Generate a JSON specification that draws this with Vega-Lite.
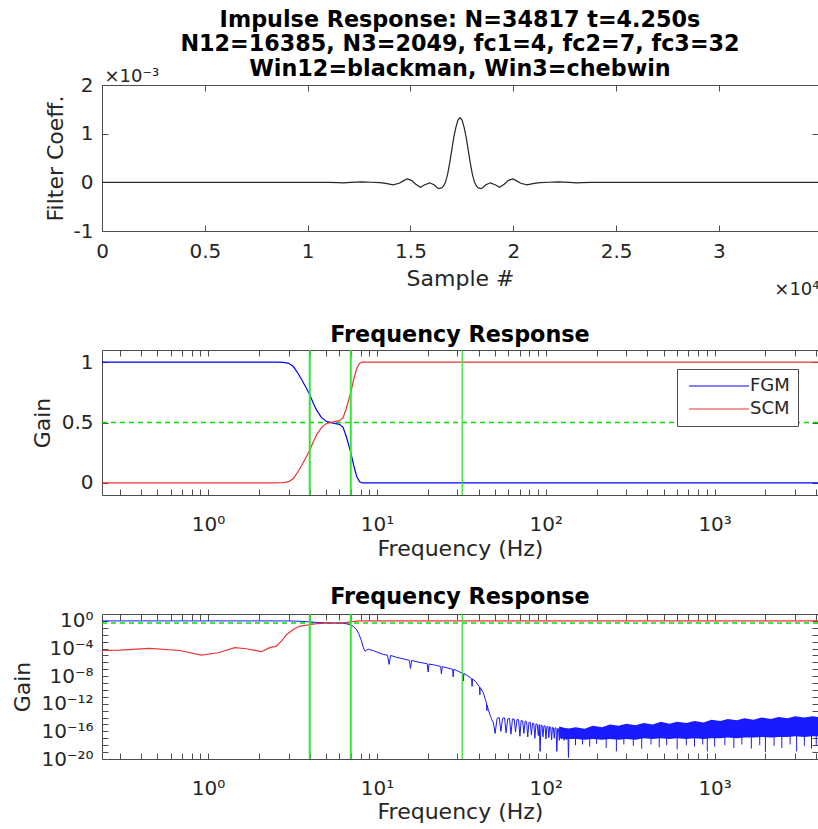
{
  "$schema": "https://vega.github.io/schema/vega-lite/v6.json",
  "padding": {"left": 10, "top": 8, "right": 0, "bottom": 4},
  "background": "white",
  "config": {
    "font": "DejaVu Sans",
    "view": {"stroke": "#4d4d4d", "strokeWidth": 1},
    "axis": {"grid": false, "domain": false, "tickSize": -6, "tickColor": "#4d4d4d", "tickWidth": 1, "labelFlush": false, "labelFont": "DejaVu Sans", "labelFontSize": 20, "labelColor": "#262626", "labelPadding": 15, "titleFont": "DejaVu Sans", "titleFontSize": 22, "titleFontWeight": "normal", "titleColor": "#262626"},
    "title": {"font": "DejaVu Sans", "fontSize": 22.3, "fontWeight": "bold", "color": "#000000", "anchor": "middle", "frame": "group"}
  },
  "datasets": {
    "impulse": [
      {"n": 0, "c": 0}, {"n": 11000, "c": 0}, {"n": 11500, "c": -5e-6}, {"n": 11750, "c": -1.2e-5}, {"n": 12100, "c": 0}, {"n": 12650, "c": 1e-5}, {"n": 13100, "c": 2e-6}, {"n": 13500, "c": -5e-6}, {"n": 13800, "c": -2e-5}, {"n": 14155, "c": -5e-5}, {"n": 14450, "c": -2e-5}, {"n": 14650, "c": 3e-5}, {"n": 14833, "c": 7e-5}, {"n": 15050, "c": 4e-5}, {"n": 15258, "c": -4e-5}, {"n": 15482, "c": -1e-4}, {"n": 15700, "c": -5e-5}, {"n": 15932, "c": -1e-5}, {"n": 16150, "c": -5e-5}, {"n": 16300, "c": -1.1e-4}, {"n": 16420, "c": -1.3e-4}, {"n": 16530, "c": -1.1e-4}, {"n": 16620, "c": -7e-5}, {"n": 16708, "c": 1e-5}, {"n": 16808, "c": 1.7e-4}, {"n": 16908, "c": 4.0e-4}, {"n": 17008, "c": 6.6e-4}, {"n": 17108, "c": 9.3e-4}, {"n": 17208, "c": 1.13e-3}, {"n": 17308, "c": 1.28e-3}, {"n": 17408, "c": 1.33e-3},
      {"n": 17508, "c": 1.28e-3}, {"n": 17608, "c": 1.13e-3}, {"n": 17708, "c": 9.3e-4}, {"n": 17808, "c": 6.6e-4}, {"n": 17908, "c": 4.0e-4}, {"n": 18008, "c": 1.7e-4}, {"n": 18108, "c": 1e-5}, {"n": 18196, "c": -7e-5}, {"n": 18286, "c": -1.1e-4}, {"n": 18396, "c": -1.3e-4}, {"n": 18516, "c": -1.1e-4}, {"n": 18666, "c": -5e-5}, {"n": 18884, "c": -1e-5}, {"n": 19116, "c": -5e-5}, {"n": 19334, "c": -1e-4}, {"n": 19558, "c": -4e-5}, {"n": 19766, "c": 4e-5}, {"n": 19983, "c": 7e-5}, {"n": 20166, "c": 3e-5}, {"n": 20366, "c": -2e-5}, {"n": 20661, "c": -5e-5}, {"n": 21016, "c": -2e-5}, {"n": 21316, "c": -5e-6}, {"n": 21716, "c": 2e-6}, {"n": 22166, "c": 1e-5}, {"n": 22716, "c": 0}, {"n": 23066, "c": -1.2e-5}, {"n": 23316, "c": -5e-6}, {"n": 23816, "c": 0}, {"n": 34816, "c": 0}
    ],
    "lin": [
      {"f": 0.2353, "g": 1, "s": "FGM"}, {"f": 1, "g": 1, "s": "FGM"}, {"f": 2.5, "g": 1, "s": "FGM"}, {"f": 2.8, "g": 0.998, "s": "FGM"}, {"f": 3.0, "g": 0.99, "s": "FGM"}, {"f": 3.2, "g": 0.963, "s": "FGM"}, {"f": 3.4, "g": 0.91, "s": "FGM"}, {"f": 3.6, "g": 0.85, "s": "FGM"}, {"f": 3.8, "g": 0.79, "s": "FGM"}, {"f": 4.0, "g": 0.73, "s": "FGM"}, {"f": 4.2, "g": 0.66, "s": "FGM"}, {"f": 4.4, "g": 0.6, "s": "FGM"}, {"f": 4.7, "g": 0.54, "s": "FGM"}, {"f": 5.0, "g": 0.51, "s": "FGM"}, {"f": 5.5, "g": 0.495, "s": "FGM"}, {"f": 6.0, "g": 0.485, "s": "FGM"}, {"f": 6.3, "g": 0.46, "s": "FGM"}, {"f": 6.6, "g": 0.38, "s": "FGM"}, {"f": 7.0, "g": 0.25, "s": "FGM"}, {"f": 7.3, "g": 0.14, "s": "FGM"}, {"f": 7.6, "g": 0.05, "s": "FGM"}, {"f": 7.9, "g": 0.01, "s": "FGM"}, {"f": 8.2, "g": 0, "s": "FGM"}, {"f": 4096, "g": 0, "s": "FGM"},
      {"f": 0.2353, "g": 0, "s": "SCM"}, {"f": 1, "g": 0, "s": "SCM"}, {"f": 2.5, "g": 0, "s": "SCM"}, {"f": 2.8, "g": 0.002, "s": "SCM"}, {"f": 3.0, "g": 0.01, "s": "SCM"}, {"f": 3.2, "g": 0.037, "s": "SCM"}, {"f": 3.4, "g": 0.09, "s": "SCM"}, {"f": 3.6, "g": 0.15, "s": "SCM"}, {"f": 3.8, "g": 0.21, "s": "SCM"}, {"f": 4.0, "g": 0.27, "s": "SCM"}, {"f": 4.2, "g": 0.34, "s": "SCM"}, {"f": 4.4, "g": 0.4, "s": "SCM"}, {"f": 4.7, "g": 0.46, "s": "SCM"}, {"f": 5.0, "g": 0.49, "s": "SCM"}, {"f": 5.5, "g": 0.505, "s": "SCM"}, {"f": 6.0, "g": 0.515, "s": "SCM"}, {"f": 6.3, "g": 0.54, "s": "SCM"}, {"f": 6.6, "g": 0.62, "s": "SCM"}, {"f": 7.0, "g": 0.75, "s": "SCM"}, {"f": 7.3, "g": 0.86, "s": "SCM"}, {"f": 7.6, "g": 0.95, "s": "SCM"}, {"f": 7.9, "g": 0.99, "s": "SCM"}, {"f": 8.2, "g": 1, "s": "SCM"}, {"f": 4096, "g": 1, "s": "SCM"}
    ],
    "half": [{"g": 0.5}],
    "fc12": [{"f": 4}, {"f": 7}],
    "fc3": [{"f": 32}],
    "fgmlog": [
      {"f": 0.2353, "g": 1}, {"f": 0.5, "g": 1}, {"f": 1, "g": 1}, {"f": 2, "g": 1}, {"f": 2.8, "g": 0.998}, {"f": 3.2, "g": 0.963}, {"f": 3.6, "g": 0.85}, {"f": 4.0, "g": 0.73}, {"f": 4.4, "g": 0.6}, {"f": 5.0, "g": 0.51}, {"f": 6.0, "g": 0.485}, {"f": 6.3, "g": 0.46}, {"f": 6.6, "g": 0.38}, {"f": 7.0, "g": 0.25}, {"f": 7.3, "g": 0.14}, {"f": 7.6, "g": 0.05}, {"f": 7.85, "g": 0.01}, {"f": 8.1, "g": 1.26e-3}, {"f": 8.3, "g": 1.5e-4}, {"f": 8.5, "g": 4e-5}, {"f": 8.7, "g": 6.3e-5}, {"f": 8.9, "g": 7.9e-5}, {"f": 9.5, "g": 5e-5}, {"f": 10.9, "g": 1.38e-5},
      {"f": 11.55, "g": 1.1e-5}, {"f": 11.8, "g": 5e-7}, {"f": 12.05, "g": 1e-5}, {"f": 13, "g": 5.6e-6}, {"f": 14.9, "g": 2.5e-6}, {"f": 15.55, "g": 2e-6}, {"f": 15.8, "g": 1.26e-7}, {"f": 16.05, "g": 1.9e-6}, {"f": 17.5, "g": 1.1e-6}, {"f": 19.85, "g": 6.3e-7}, {"f": 20.1, "g": 4e-8}, {"f": 20.35, "g": 5.6e-7}, {"f": 22, "g": 4e-7}, {"f": 23.85, "g": 2.5e-7}, {"f": 24.1, "g": 2e-8}, {"f": 24.35, "g": 2.4e-7}, {"f": 26, "g": 1.6e-7}, {"f": 28.05, "g": 1e-7}, {"f": 28.3, "g": 7.9e-9}, {"f": 28.55, "g": 1e-7}, {"f": 30, "g": 5.6e-8}, {"f": 32.25, "g": 2.5e-8}, {"f": 32.5, "g": 2e-9}, {"f": 32.75, "g": 2.4e-8}, {"f": 34.5, "g": 1.1e-8}, {"f": 36.35, "g": 4.5e-9}, {"f": 36.6, "g": 3.2e-10}, {"f": 36.85, "g": 4e-9}, {"f": 38.5, "g": 1.6e-9}, {"f": 40.45, "g": 2.8e-10}, {"f": 40.7, "g": 2e-11}, {"f": 40.95, "g": 2.2e-10}, {"f": 42.7, "g": 4e-11}, {"f": 44, "g": 3.2e-12}, {"f": 44.55, "g": 1.26e-12}, {"f": 44.8, "g": 1e-13}, {"f": 45.05, "g": 6.3e-13}, {"f": 45.6, "g": 1.6e-13}, {"f": 47, "g": 1.6e-14}, {"f": 47.9, "g": 5e-15}, {"f": 49, "g": 1.6e-15},
      {"f": 50.1, "g": 5e-17}, {"f": 51.5, "g": 7.9e-15}, {"f": 53, "g": 1e-14}, {"f": 54.2, "g": 1e-16}, {"f": 55.5, "g": 7.9e-15}, {"f": 57, "g": 8.9e-15}, {"f": 58.2, "g": 6.3e-17}, {"f": 59.5, "g": 6.3e-15}, {"f": 61, "g": 7.9e-15}, {"f": 62.2, "g": 4e-17}, {"f": 63.5, "g": 6.3e-15}, {"f": 65, "g": 6.3e-15}, {"f": 66.2, "g": 7.9e-17}, {"f": 67.5, "g": 5e-15}, {"f": 69, "g": 5e-15}, {"f": 70.3, "g": 2e-17}, {"f": 71.5, "g": 4e-15}, {"f": 73, "g": 3.2e-15}, {"f": 74.2, "g": 5e-17}, {"f": 75.5, "g": 3.2e-15}, {"f": 77, "g": 2.5e-15}, {"f": 78.2, "g": 1.6e-17}, {"f": 79.5, "g": 2e-15}, {"f": 81, "g": 2e-15}, {"f": 82.2, "g": 3.2e-17}, {"f": 83.5, "g": 1.6e-15}, {"f": 85, "g": 1.26e-15}, {"f": 86.2, "g": 1e-17}, {"f": 87.5, "g": 1.26e-15}, {"f": 89, "g": 1e-15}, {"f": 90.3, "g": 2.5e-17}, {"f": 91.5, "g": 1e-15}, {"f": 92.5, "g": 1.26e-19}, {"f": 93.7, "g": 7.9e-16}, {"f": 95, "g": 7.9e-16}, {"f": 96.3, "g": 1.6e-17}, {"f": 97.5, "g": 6.3e-16}, {"f": 99, "g": 6.3e-16}, {"f": 100.3, "g": 7.9e-18}, {"f": 101.5, "g": 5e-16}, {"f": 103, "g": 5e-16}, {"f": 104.3, "g": 1.26e-17}, {"f": 105.5, "g": 5e-16}, {"f": 107, "g": 4e-16}, {"f": 108.3, "g": 6.3e-18}, {"f": 109.5, "g": 4e-16}, {"f": 111, "g": 3.2e-16}, {"f": 112.3, "g": 1e-17}, {"f": 113.5, "g": 3.2e-16}, {"f": 115, "g": 3.2e-16}, {"f": 116.3, "g": 1.26e-19}, {"f": 117.5, "g": 2.5e-16}, {"f": 119, "g": 2.5e-16}, {"f": 120.3, "g": 5e-18}, {"f": 121.5, "g": 2.5e-16}, {"f": 123, "g": 2.5e-16}, {"f": 124.3, "g": 7.9e-18}, {"f": 125.5, "g": 2.5e-16}, {"f": 127, "g": 2.5e-16}, {"f": 128.3, "g": 5e-18}, {"f": 129.5, "g": 2.5e-16}, {"f": 131, "g": 2.5e-16}, {"f": 132.3, "g": 6.3e-18}, {"f": 133.5, "g": 2.5e-16}, {"f": 135, "g": 2.5e-16}, {"f": 136.3, "g": 1.6e-20}, {"f": 137.5, "g": 2.5e-16}
    ],
    "band": [
      {"f": 120, "lo": 1e-17, "hi": 5e-16}, {"f": 135, "lo": 7.9e-18, "hi": 2.5e-16}, {"f": 150, "lo": 7.9e-18, "hi": 3.98e-16}, {"f": 170, "lo": 6.3e-18, "hi": 2.5e-16}, {"f": 190, "lo": 7.9e-18, "hi": 6.3e-16}, {"f": 215, "lo": 6.3e-18, "hi": 3.98e-16}, {"f": 240, "lo": 7.9e-18, "hi": 1e-15}, {"f": 270, "lo": 6.3e-18, "hi": 6.3e-16}, {"f": 300, "lo": 7.9e-18, "hi": 1.26e-15}, {"f": 340, "lo": 6.3e-18, "hi": 7.9e-16}, {"f": 380, "lo": 1e-17, "hi": 1.58e-15}, {"f": 430, "lo": 7.9e-18, "hi": 1e-15}, {"f": 480, "lo": 1e-17, "hi": 2.5e-15}, {"f": 540, "lo": 7.9e-18, "hi": 1.26e-15}, {"f": 600, "lo": 1e-17, "hi": 2.5e-15}, {"f": 680, "lo": 7.9e-18, "hi": 1.58e-15}, {"f": 760, "lo": 1e-17, "hi": 3.16e-15}, {"f": 860, "lo": 7.9e-18, "hi": 2e-15}, {"f": 960, "lo": 1e-17, "hi": 5e-15}, {"f": 1080, "lo": 1e-17, "hi": 3.16e-15}, {"f": 1200, "lo": 1.26e-17, "hi": 6.3e-15}, {"f": 1350, "lo": 1e-17, "hi": 3.98e-15}, {"f": 1500, "lo": 1.26e-17, "hi": 7.9e-15}, {"f": 1700, "lo": 1.26e-17, "hi": 5e-15}, {"f": 1900, "lo": 1.58e-17, "hi": 1e-14}, {"f": 2150, "lo": 1.26e-17, "hi": 6.3e-15}, {"f": 2400, "lo": 1.58e-17, "hi": 1.26e-14}, {"f": 2700, "lo": 1.58e-17, "hi": 7.9e-15}, {"f": 3000, "lo": 2e-17, "hi": 1.58e-14}, {"f": 3400, "lo": 1.58e-17, "hi": 1e-14}, {"f": 3800, "lo": 2e-17, "hi": 1.58e-14}, {"f": 4096, "lo": 2e-17, "hi": 1.26e-14}
    ],
    "spikes": [
      {"f": 150, "lo": 1e-18, "hi": 1.6e-17}, {"f": 165, "lo": 1.26e-18, "hi": 1.6e-17}, {"f": 182, "lo": 6.3e-19, "hi": 1.6e-17}, {"f": 200, "lo": 1.58e-18, "hi": 1.6e-17}, {"f": 228, "lo": 4e-19, "hi": 1.6e-17}, {"f": 262, "lo": 1.26e-19, "hi": 1.6e-17}, {"f": 290, "lo": 1.26e-18, "hi": 1.6e-17}, {"f": 330, "lo": 7.9e-19, "hi": 1.6e-17}, {"f": 370, "lo": 3.2e-19, "hi": 1.6e-17}, {"f": 420, "lo": 1.26e-18, "hi": 1.6e-17}, {"f": 470, "lo": 5e-19, "hi": 1.6e-17}, {"f": 520, "lo": 1e-18, "hi": 1.6e-17}, {"f": 600, "lo": 2.5e-19, "hi": 1.6e-17}, {"f": 680, "lo": 1e-18, "hi": 1.6e-17}, {"f": 760, "lo": 6.3e-19, "hi": 1.6e-17}, {"f": 850, "lo": 1.26e-18, "hi": 1.6e-17}, {"f": 905, "lo": 1.26e-19, "hi": 1.6e-17}, {"f": 1000, "lo": 6.3e-19, "hi": 1.6e-17}, {"f": 1150, "lo": 1e-18, "hi": 2e-17}, {"f": 1300, "lo": 4e-19, "hi": 2e-17}, {"f": 1450, "lo": 1.26e-18, "hi": 2e-17}, {"f": 1650, "lo": 3.2e-19, "hi": 2e-17}, {"f": 1850, "lo": 1e-18, "hi": 2e-17}, {"f": 2000, "lo": 1e-19, "hi": 2e-17}, {"f": 2250, "lo": 7.9e-19, "hi": 2.5e-17}, {"f": 2500, "lo": 4e-19, "hi": 2.5e-17}, {"f": 2800, "lo": 1.26e-18, "hi": 2.5e-17}, {"f": 3060, "lo": 1.26e-19, "hi": 2.5e-17}, {"f": 3400, "lo": 7.9e-19, "hi": 2.5e-17}, {"f": 3750, "lo": 3.2e-19, "hi": 2.5e-17}, {"f": 4000, "lo": 1e-18, "hi": 2.5e-17}
    ],
    "scmlog": [
      {"f": 0.2353, "g": 5.2e-5}, {"f": 0.3, "g": 5.9e-5}, {"f": 0.45, "g": 1.02e-4}, {"f": 0.68, "g": 5.2e-5}, {"f": 0.91, "g": 1.12e-5}, {"f": 1.15, "g": 2.45e-5}, {"f": 1.44, "g": 1.32e-4}, {"f": 1.69, "g": 9.3e-5}, {"f": 2.07, "g": 3.5e-5}, {"f": 2.32, "g": 1.32e-4}, {"f": 2.54, "g": 2.24e-4}, {"f": 2.75, "g": 1.6e-3}, {"f": 2.92, "g": 1.1e-2}, {"f": 3.2, "g": 0.056}, {"f": 3.5, "g": 0.178}, {"f": 4.0, "g": 0.28}, {"f": 4.4, "g": 0.4}, {"f": 5.0, "g": 0.49}, {"f": 6.0, "g": 0.515}, {"f": 6.6, "g": 0.62}, {"f": 7.0, "g": 0.75}, {"f": 7.6, "g": 0.95}, {"f": 8.2, "g": 1}, {"f": 4096, "g": 1}
    ]
  },
  "spacing": 119,
  "bounds": "flush",
  "vconcat": [
    {
      "width": 716,
      "height": 146,
      "title": {"text": ["Impulse Response: N=34817 t=4.250s", "N12=16385, N3=2049, fc1=4, fc2=7, fc3=32", "Win12=blackman, Win3=chebwin"], "lineHeight": 24.5, "offset": -13},
      "data": {"name": "impulse"},
      "layer": [
        {
          "mark": {"type": "line", "color": "#262626", "strokeWidth": 1.2},
          "encoding": {
            "x": {"field": "n", "type": "quantitative", "scale": {"domain": [0, 34817], "nice": false, "zero": false},
              "axis": {"values": [0, 5000, 10000, 15000, 20000, 25000, 30000], "labelExpr": "'' + datum.value/10000", "labelPadding": 16, "title": "Sample #", "titleY": 47, "titleBaseline": "middle"}},
            "y": {"field": "c", "type": "quantitative", "scale": {"domain": [-0.001, 0.002], "nice": false},
              "axis": {"values": [-0.001, 0, 0.001, 0.002], "labelExpr": "'' + round(datum.value*1000)", "title": "Filter Coeff.", "titleX": -47, "titleBaseline": "middle"}}
          }
        },
        {
          "mark": {"type": "line", "opacity": 0},
          "encoding": {
            "x": {"field": "n", "type": "quantitative",
              "axis": {"orient": "top", "values": [0, 5000, 10000, 15000, 20000, 25000, 30000], "labels": false, "title": "×10⁻³", "titleX": 2, "titleY": -4, "titleAlign": "left", "titleAnchor": "start", "titleAngle": 0, "titleBaseline": "alphabetic", "titleFontSize": 18}},
            "y": {"field": "c", "type": "quantitative",
              "axis": {"orient": "right", "values": [-0.001, 0, 0.001, 0.002], "labels": false, "title": "×10⁴", "titleX": 1, "titleY": 209, "titleAlign": "right", "titleAngle": 0, "titleBaseline": "alphabetic", "titleFontSize": 18}}
          }
        }
      ],
      "resolve": {"axis": {"x": "independent", "y": "independent"}}
    },
    {
      "width": 716,
      "height": 145,
      "title": {"text": "Frequency Response", "offset": 3},
      "layer": [
        {
          "data": {"name": "half"},
          "mark": {"type": "rule", "color": "#00e000", "strokeWidth": 1.3, "strokeDash": [5, 4]},
          "encoding": {"y": {"field": "g", "type": "quantitative", "axis": null}}
        },
        {
          "data": {"name": "lin"},
          "mark": {"type": "line", "strokeWidth": 1.2},
          "encoding": {
            "x": {"field": "f", "type": "quantitative", "scale": {"type": "log", "domain": [0.2353, 4096], "nice": false},
              "axis": {"values": [0.3, 0.4, 0.5, 0.6, 0.7, 0.8, 0.9, 1, 2, 3, 4, 5, 6, 7, 8, 9, 10, 20, 30, 40, 50, 60, 70, 80, 90, 100, 200, 300, 400, 500, 600, 700, 800, 900, 1000, 2000, 3000, 4000], "labelExpr": "datum.value==1?'10⁰':datum.value==10?'10¹':datum.value==100?'10²':datum.value==1000?'10³':''", "labelOverlap": false, "labelPadding": 25, "title": "Frequency (Hz)", "titleY": 53, "titleBaseline": "middle"}},
            "y": {"field": "g", "type": "quantitative", "scale": {"domain": [-0.1, 1.1], "nice": false, "zero": false},
              "axis": {"values": [0, 0.5, 1], "labelExpr": "'' + datum.value", "title": "Gain", "titleX": -60, "titleBaseline": "middle"}},
            "color": {"field": "s", "type": "nominal", "scale": {"domain": ["FGM", "SCM"], "range": ["#0000ff", "#ee3333"]},
              "legend": {"orient": "none", "legendX": 575, "legendY": 284, "title": null, "symbolType": "M-6,0H6", "symbolSize": 100, "symbolOffset": 25, "symbolStrokeWidth": 1.2, "labelFontSize": 18, "labelColor": "#262626", "labelOffset": 22, "padding": 8, "strokeColor": "#4d4d4d", "fillColor": "#ffffff", "rowPadding": 5}}
          }
        },
        {
          "data": {"name": "fc12"},
          "mark": {"type": "rule", "color": "#33e633", "strokeWidth": 2},
          "encoding": {"x": {"field": "f", "type": "quantitative", "axis": null}}
        },
        {
          "data": {"name": "fc3"},
          "mark": {"type": "rule", "color": "#33e633", "strokeWidth": 1.3},
          "encoding": {"x": {"field": "f", "type": "quantitative", "axis": null}}
        },
        {
          "data": {"name": "lin"},
          "mark": {"type": "line", "opacity": 0},
          "encoding": {
            "x": {"field": "f", "type": "quantitative", "axis": {"orient": "top", "values": [0.3, 0.4, 0.5, 0.6, 0.7, 0.8, 0.9, 1, 2, 3, 4, 5, 6, 7, 8, 9, 10, 20, 30, 40, 50, 60, 70, 80, 90, 100, 200, 300, 400, 500, 600, 700, 800, 900, 1000, 2000, 3000, 4000], "labels": false, "title": null}},
            "y": {"field": "g", "type": "quantitative", "axis": {"orient": "right", "values": [0, 0.5, 1], "labels": false, "title": null}}
          }
        }
      ],
      "resolve": {"axis": {"x": "independent", "y": "independent"}}
    },
    {
      "width": 716,
      "height": 145,
      "title": {"text": "Frequency Response", "offset": 3},
      "layer": [
        {
          "data": {"name": "band"},
          "mark": {"type": "area", "color": "#1a1aff", "opacity": 1},
          "encoding": {
            "x": {"field": "f", "type": "quantitative", "scale": {"type": "log", "domain": [0.2353, 4096], "nice": false}, "axis": null},
            "y": {"field": "lo", "type": "quantitative", "scale": {"type": "log", "domain": [1e-20, 10], "nice": false}, "axis": null},
            "y2": {"field": "hi"}
          }
        },
        {
          "data": {"name": "spikes"},
          "mark": {"type": "rule", "color": "#1a1aff", "strokeWidth": 1},
          "encoding": {
            "x": {"field": "f", "type": "quantitative", "axis": null},
            "y": {"field": "lo", "type": "quantitative", "axis": null},
            "y2": {"field": "hi"}
          }
        },
        {
          "data": {"name": "half"},
          "mark": {"type": "rule", "color": "#00e000", "strokeWidth": 1.3, "strokeDash": [5, 4]},
          "encoding": {"y": {"field": "g", "type": "quantitative", "axis": null}}
        },
        {
          "data": {"name": "fgmlog"},
          "mark": {"type": "line", "color": "#1a1aff", "strokeWidth": 1},
          "encoding": {
            "x": {"field": "f", "type": "quantitative",
              "axis": {"values": [0.3, 0.4, 0.5, 0.6, 0.7, 0.8, 0.9, 1, 2, 3, 4, 5, 6, 7, 8, 9, 10, 20, 30, 40, 50, 60, 70, 80, 90, 100, 200, 300, 400, 500, 600, 700, 800, 900, 1000, 2000, 3000, 4000], "labelExpr": "datum.value==1?'10⁰':datum.value==10?'10¹':datum.value==100?'10²':datum.value==1000?'10³':''", "labelOverlap": false, "labelPadding": 25, "title": "Frequency (Hz)", "titleY": 52, "titleBaseline": "middle"}},
            "y": {"field": "g", "type": "quantitative",
              "axis": {"values": [1e-20, 1e-19, 1e-18, 1e-17, 1e-16, 1e-15, 1e-14, 1e-13, 1e-12, 1e-11, 1e-10, 1e-9, 1e-8, 1e-7, 1e-6, 1e-5, 1e-4, 1e-3, 1e-2, 1e-1, 1], "labelExpr": "round(log(datum.value)/LN10)==0?'10⁰':round(log(datum.value)/LN10)==-4?'10⁻⁴':round(log(datum.value)/LN10)==-8?'10⁻⁸':round(log(datum.value)/LN10)==-12?'10⁻¹²':round(log(datum.value)/LN10)==-16?'10⁻¹⁶':round(log(datum.value)/LN10)==-20?'10⁻²⁰':''", "labelOverlap": false, "title": "Gain", "titleX": -80, "titleBaseline": "middle"}}
          }
        },
        {
          "data": {"name": "scmlog"},
          "mark": {"type": "line", "color": "#ee3333", "strokeWidth": 1.2},
          "encoding": {
            "x": {"field": "f", "type": "quantitative", "axis": null},
            "y": {"field": "g", "type": "quantitative", "axis": null}
          }
        },
        {
          "data": {"name": "fc12"},
          "mark": {"type": "rule", "color": "#33e633", "strokeWidth": 2},
          "encoding": {"x": {"field": "f", "type": "quantitative", "axis": null}}
        },
        {
          "data": {"name": "fc3"},
          "mark": {"type": "rule", "color": "#33e633", "strokeWidth": 1.3},
          "encoding": {"x": {"field": "f", "type": "quantitative", "axis": null}}
        },
        {
          "data": {"name": "scmlog"},
          "mark": {"type": "line", "opacity": 0},
          "encoding": {
            "x": {"field": "f", "type": "quantitative", "axis": {"orient": "top", "values": [0.3, 0.4, 0.5, 0.6, 0.7, 0.8, 0.9, 1, 2, 3, 4, 5, 6, 7, 8, 9, 10, 20, 30, 40, 50, 60, 70, 80, 90, 100, 200, 300, 400, 500, 600, 700, 800, 900, 1000, 2000, 3000, 4000], "labels": false, "title": null}},
            "y": {"field": "g", "type": "quantitative", "axis": {"orient": "right", "values": [1e-20, 1e-19, 1e-18, 1e-17, 1e-16, 1e-15, 1e-14, 1e-13, 1e-12, 1e-11, 1e-10, 1e-9, 1e-8, 1e-7, 1e-6, 1e-5, 1e-4, 1e-3, 1e-2, 1e-1, 1], "labels": false, "title": null}}
          }
        }
      ],
      "resolve": {"axis": {"x": "independent", "y": "independent"}}
    }
  ]
}
